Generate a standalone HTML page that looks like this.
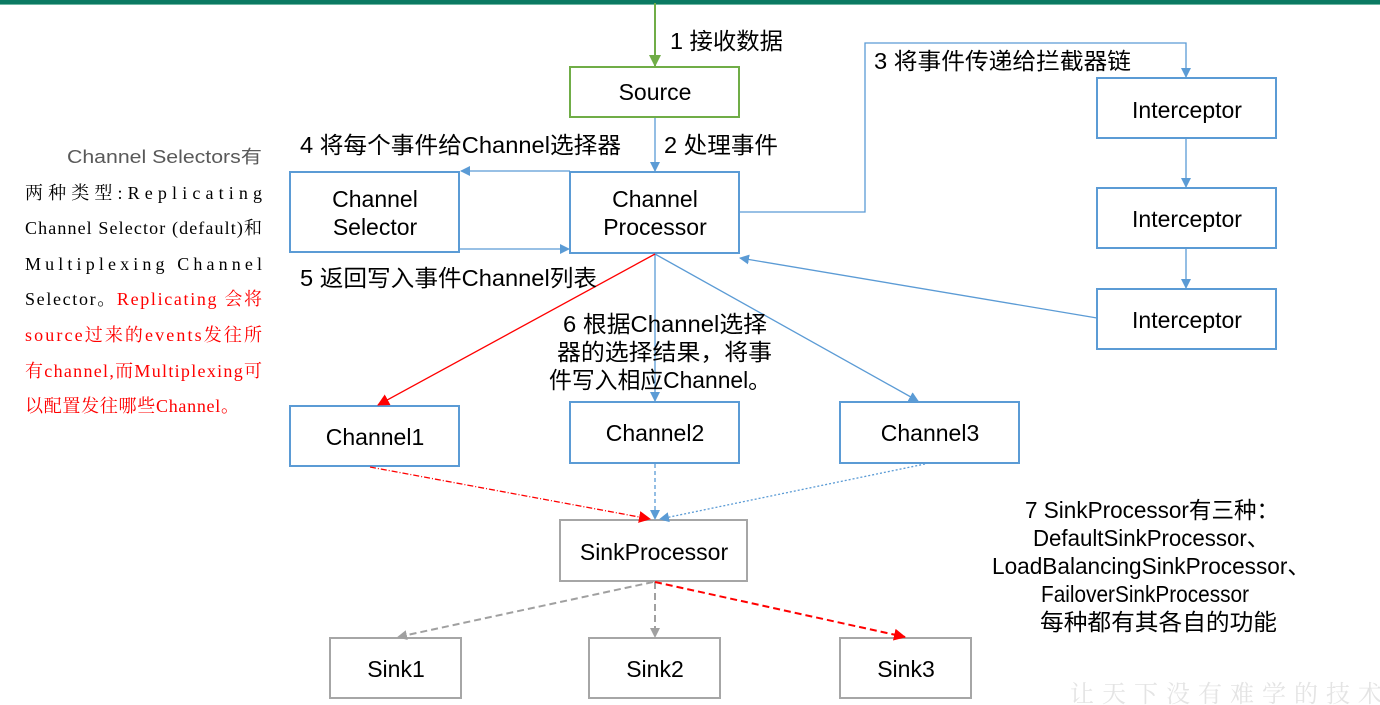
<!DOCTYPE html>
<html><head><meta charset="utf-8"><style>
html,body{margin:0;padding:0;background:#fff;}
body{width:1380px;height:705px;position:relative;overflow:hidden;font-family:"Liberation Sans","Noto Sans CJK SC",sans-serif;}
</style></head><body>
<svg width="1380" height="705" style="position:absolute;left:0;top:0" font-family="Liberation Sans, Noto Sans CJK SC, sans-serif">
<defs>
<marker id="ab" markerWidth="10" markerHeight="10" refX="9" refY="5" orient="auto" markerUnits="userSpaceOnUse"><path d="M0,0 L10,5 L0,10 z" fill="#5b9bd5"/></marker>
<marker id="ar" markerWidth="12" markerHeight="12" refX="11" refY="6" orient="auto" markerUnits="userSpaceOnUse"><path d="M0,0 L12,6 L0,12 z" fill="#ff0000"/></marker>
<marker id="ag" markerWidth="10" markerHeight="10" refX="9" refY="5" orient="auto" markerUnits="userSpaceOnUse"><path d="M0,0 L10,5 L0,10 z" fill="#a0a0a0"/></marker>
<marker id="agr" markerWidth="12" markerHeight="12" refX="11" refY="6" orient="auto" markerUnits="userSpaceOnUse"><path d="M0,0 L12,6 L0,12 z" fill="#70ad47"/></marker>
</defs>
<rect x="0" y="0" width="1380" height="4" fill="#0b7a63"/>
<rect x="0" y="4" width="1380" height="1" fill="#6fb7a4"/>
<g fill="#fff" stroke-width="2">
<rect x="570" y="67" width="169" height="50" stroke="#70ad47"/>
<g stroke="#5b9bd5">
<rect x="290" y="172" width="169" height="80"/>
<rect x="570" y="172" width="169" height="81"/>
<rect x="1097" y="78" width="179" height="60"/>
<rect x="1097" y="188" width="179" height="60"/>
<rect x="1097" y="289" width="179" height="60"/>
<rect x="290" y="406" width="169" height="60"/>
<rect x="570" y="402" width="169" height="61"/>
<rect x="840" y="402" width="179" height="61"/>
</g>
<g stroke="#a6a6a6">
<rect x="560" y="520" width="187" height="61"/>
<rect x="330" y="638" width="131" height="60"/>
<rect x="589" y="638" width="131" height="60"/>
<rect x="840" y="638" width="131" height="60"/>
</g>
</g>
<g fill="none" stroke-width="1.3">
<line x1="655" y1="3" x2="655" y2="66" stroke="#70ad47" stroke-width="2" marker-end="url(#agr)"/>
<g stroke="#5b9bd5" marker-end="url(#ab)">
<line x1="655" y1="118" x2="655" y2="171"/>
<line x1="570" y1="171" x2="461" y2="171"/>
<line x1="459" y1="249" x2="569" y2="249"/>
<polyline points="739,212 865,212 865,43 1186,43 1186,77"/>
<line x1="1186" y1="139" x2="1186" y2="187"/>
<line x1="1186" y1="249" x2="1186" y2="288"/>
<line x1="1097" y1="318" x2="740" y2="258"/>
<line x1="655" y1="254" x2="655" y2="401"/>
<line x1="655" y1="254" x2="918" y2="401"/>
<line x1="655" y1="464" x2="655" y2="519" stroke-dasharray="4,3"/>
<line x1="925" y1="464" x2="660" y2="519" stroke-dasharray="2,2"/>
</g>
<line x1="655" y1="254" x2="378" y2="405" stroke="#ff0000" marker-end="url(#ar)"/>
<line x1="370" y1="467" x2="650" y2="519" stroke="#ff0000" stroke-dasharray="6,2,1,2" marker-end="url(#ar)"/>
<g stroke="#a0a0a0" stroke-width="2" stroke-dasharray="7,4" marker-end="url(#ag)">
<line x1="653" y1="582" x2="398" y2="637"/>
<line x1="655" y1="582" x2="655" y2="637"/>
</g>
<line x1="655" y1="582" x2="905" y2="637" stroke="#ff0000" stroke-width="2" stroke-dasharray="7,4" marker-end="url(#ar)"/>
</g>
<g font-size="23" fill="#000" text-anchor="middle">
<text x="655" y="100">Source</text>
<text x="375" y="207">Channel</text><text x="375" y="235">Selector</text>
<text x="655" y="207">Channel</text><text x="655" y="235">Processor</text>
<text x="1187" y="118">Interceptor</text>
<text x="1187" y="227">Interceptor</text>
<text x="1187" y="328">Interceptor</text>
<text x="375" y="445">Channel1</text>
<text x="655" y="441">Channel2</text>
<text x="930" y="441">Channel3</text>
<text x="654" y="560">SinkProcessor</text>
<text x="396" y="677">Sink1</text>
<text x="655" y="677">Sink2</text>
<text x="906" y="677">Sink3</text>
</g>
<g font-size="23" fill="#000">
<text x="670" y="49" textLength="113" lengthAdjust="spacingAndGlyphs">1 接收数据</text>
<text x="664" y="153" textLength="114" lengthAdjust="spacingAndGlyphs">2 处理事件</text>
<text x="874" y="69" textLength="257" lengthAdjust="spacingAndGlyphs">3 将事件传递给拦截器链</text>
<text x="300" y="153" textLength="321" lengthAdjust="spacingAndGlyphs">4 将每个事件给Channel选择器</text>
<text x="300" y="286" textLength="297" lengthAdjust="spacingAndGlyphs">5 返回写入事件Channel列表</text>
<text x="563" y="332" textLength="204" lengthAdjust="spacingAndGlyphs">6 根据Channel选择</text>
<text x="557" y="360" textLength="215" lengthAdjust="spacingAndGlyphs">器的选择结果，将事</text>
<text x="549" y="388" textLength="222" lengthAdjust="spacingAndGlyphs">件写入相应Channel。</text>
<text x="1025" y="518" textLength="254" lengthAdjust="spacingAndGlyphs">7 SinkProcessor有三种：</text>
<text x="1033" y="546" textLength="236" lengthAdjust="spacingAndGlyphs">DefaultSinkProcessor、</text>
<text x="992" y="574" textLength="318" lengthAdjust="spacingAndGlyphs">LoadBalancingSinkProcessor、</text>
<text x="1041" y="602" textLength="208" lengthAdjust="spacingAndGlyphs">FailoverSinkProcessor</text>
<text x="1040" y="630" textLength="237" lengthAdjust="spacingAndGlyphs">每种都有其各自的功能</text>
</g>
<g font-size="18" font-family="Liberation Serif, Noto Serif CJK SC, serif" fill="#000">
<text x="67" y="163" font-family="Liberation Sans, Noto Sans CJK SC, sans-serif" fill="#595959" textLength="195" lengthAdjust="spacingAndGlyphs">Channel Selectors有</text>
<text x="25" y="199" textLength="237" lengthAdjust="spacing">两种类型:Replicating</text>
<text x="25" y="234" textLength="237" lengthAdjust="spacing">Channel Selector (default)和</text>
<text x="25" y="270" textLength="237" lengthAdjust="spacing">Multiplexing Channel</text>
<text x="25" y="305" textLength="237" lengthAdjust="spacing">Selector。<tspan fill="#ff0000">Replicating 会将</tspan></text>
<text x="25" y="341" fill="#ff0000" textLength="237" lengthAdjust="spacing">source过来的events发往所</text>
<text x="25" y="377" fill="#ff0000" textLength="237" lengthAdjust="spacing">有channel,而Multiplexing可</text>
<text x="25" y="412" fill="#ff0000" textLength="214" lengthAdjust="spacing">以配置发往哪些Channel。</text>
</g>
<text x="1070" y="702" font-size="24" fill="#e4e4e4" letter-spacing="8" font-family="Noto Serif CJK SC, serif">让天下没有难学的技术</text>
</svg>
</body></html>
